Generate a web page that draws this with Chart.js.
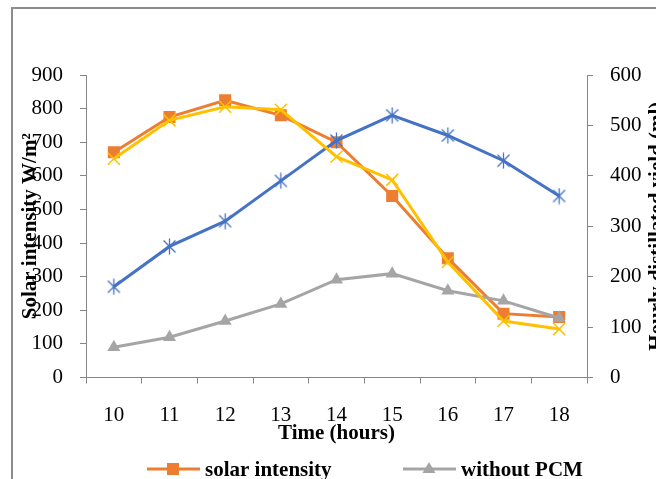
<!DOCTYPE html>
<html>
<head>
<meta charset="utf-8">
<script src="https://cdn.jsdelivr.net/npm/chart.js@4.4.0/dist/chart.umd.min.js"></script>
<style>
  html, body { margin: 0; padding: 0; background: #fff; overflow: hidden; }
  #wrap { position: relative; width: 656px; height: 479px; overflow: hidden; }
  #frame { position: absolute; left: 11px; top: 7px; width: 700px; height: 520px;
           border-top: 2px solid #8c8c8c; border-left: 2px solid #8c8c8c; }
  #box { position: absolute; left: 0; top: 0; width: 680px; height: 479px; }
</style>
</head>
<body>
<div id="wrap">
  <div id="frame"></div>
  <div id="box"><canvas id="yieldChart" width="680" height="479"></canvas></div>
</div>
<script>
// data
const hours = ['10', '11', '12', '13', '14', '15', '16', '17', '18'];
const solarIntensity = [670, 775, 825, 780, 700, 540, 355, 190, 180];   // W/m2, left axis
const withoutPCM = [60, 80, 112, 146, 194, 206, 172, 152, 118];         // ml, right axis
const withPCM = [180, 260, 310, 390, 470, 520, 480, 430, 360];          // ml, right axis
const withPCMFins = [434, 510, 537, 531, 438, 392, 229, 112, 96];       // ml, right axis
const leftAxis = { min: 0, max: 900, step: 100 };
const rightAxis = { min: 0, max: 600, step: 100 };

const serif = "'Liberation Serif', 'Times New Roman', serif";
const axisGrey = '#868686';

// excel style star: an X with a vertical bar
let makeStar = (color) => {
  const c = document.createElement('canvas');
  c.width = 15;
  c.height = 17;
  const g = c.getContext('2d');
  g.strokeStyle = color;
  g.lineWidth = 1.3;
  g.beginPath();
  g.moveTo(1.5, 2.5); g.lineTo(13.5, 14.5);
  g.moveTo(13.5, 2.5); g.lineTo(1.5, 14.5);
  g.moveTo(7.5, 0.5); g.lineTo(7.5, 16.5);
  g.stroke();
  return c;
}

let drawLegendMarker = (ctx, style, color, x, y) => {
  ctx.fillStyle = color;
  ctx.strokeStyle = color;
  if (style === 'rect') {
    ctx.fillRect(x - 6, y - 6, 12, 12);
  } else if (style === 'triangle') {
    ctx.beginPath();
    ctx.moveTo(x, y - 7);
    ctx.lineTo(x + 6.5, y + 4);
    ctx.lineTo(x - 6.5, y + 4);
    ctx.closePath();
    ctx.fill();
  }
}

const bottomLegend = {
  id: 'bottomLegend',
  afterDraw(chart) {
    const ctx = chart.ctx;
    const columns = [147, 403];
    ctx.save();
    chart.data.datasets.forEach((ds, i) => {
      const x = columns[i % 2];
      const y = 469 + Math.floor(i / 2) * 26;
      ctx.strokeStyle = ds.borderColor;
      ctx.lineWidth = 3;
      ctx.beginPath();
      ctx.moveTo(x, y);
      ctx.lineTo(x + 53, y);
      ctx.stroke();
      drawLegendMarker(ctx, ds.pointStyle, ds.borderColor, x + 26, y);
      ctx.fillStyle = '#000';
      ctx.font = `bold 21px ${serif}`;
      ctx.textBaseline = 'middle';
      ctx.textAlign = 'left';
      ctx.fillText(ds.label, x + 58, y + 2);
    });
    ctx.restore();
  }
};

const rightTitle = {
  id: 'rightTitle',
  afterDraw(chart) {
    const ctx = chart.ctx;
    const area = chart.chartArea;
    ctx.save();
    ctx.translate(658, (area.top + area.bottom) / 2);
    ctx.rotate(-Math.PI / 2);
    ctx.fillStyle = '#000';
    ctx.font = `bold 21px ${serif}`;
    ctx.textAlign = 'center';
    ctx.textBaseline = 'middle';
    ctx.fillText('Hourly distillated yield (ml)', 0, 0);
    ctx.restore();
  }
};

const yieldChart = new Chart(document.querySelector('#yieldChart').getContext('2d'), {
  type: 'line',
  data: {
    labels: hours,
    datasets: [
      {
        label: 'solar intensity', data: solarIntensity, yAxisID: 'y', order: 4,
        borderColor: '#ED7D31', backgroundColor: '#ED7D31', borderWidth: 3,
        pointStyle: 'rect', pointRadius: 8.5, pointBorderWidth: 0, pointBackgroundColor: '#ED7D31'
      },
      {
        label: 'without PCM', data: withoutPCM, yAxisID: 'y1', order: 3,
        borderColor: '#A5A5A5', backgroundColor: '#A5A5A5', borderWidth: 3,
        pointStyle: 'triangle', pointRadius: 7.5, pointBorderWidth: 0, pointBackgroundColor: '#A5A5A5'
      },
      {
        label: 'with PCM', data: withPCM, yAxisID: 'y1', order: 2,
        borderColor: '#4472C4', backgroundColor: '#4472C4', borderWidth: 3,
        pointStyle: makeStar('#4472C4')
      },
      {
        label: 'with PCM and fins', data: withPCMFins, yAxisID: 'y1', order: 1,
        borderColor: '#FFC000', backgroundColor: '#FFC000', borderWidth: 3,
        pointStyle: 'crossRot', pointRadius: 8.5, pointBorderWidth: 1.5, pointBorderColor: '#FFC000'
      }
    ]
  },
  options: {
    responsive: false,
    animation: false,
    devicePixelRatio: 1,
    layout: { padding: { top: 75, left: 0, right: 0, bottom: 0 } },
    plugins: {
      legend: { display: false },
      tooltip: { enabled: false }
    },
    scales: {
      x: {
        type: 'category',
        offset: true,
        grid: { offset: true, drawOnChartArea: false, drawTicks: true, tickLength: 6, color: axisGrey },
        border: { color: axisGrey, width: 1 },
        ticks: { font: { family: serif, size: 21 }, color: '#000', padding: 19, maxRotation: 0 },
        title: {
          display: true, text: 'Time (hours)', color: '#000',
          font: { family: serif, size: 21, weight: 'bold' }, padding: { top: 0, bottom: 33 }
        },
        afterFit: (scale) => { scale.height = 101.5; }
      },
      y: {
        position: 'left',
        min: leftAxis.min, max: leftAxis.max,
        grid: { drawOnChartArea: false, drawTicks: true, tickLength: 6, color: axisGrey },
        border: { color: axisGrey, width: 1 },
        ticks: { stepSize: leftAxis.step, font: { family: serif, size: 21 }, color: '#000', padding: 17 },
        title: {
          display: true, text: 'Solar intensity W/m²', color: '#000',
          font: { family: serif, size: 21, weight: 'bold' }, padding: { top: 18, bottom: 0 }
        },
        afterFit: (scale) => { scale.width = 86; }
      },
      y1: {
        position: 'right',
        min: rightAxis.min, max: rightAxis.max,
        grid: { drawOnChartArea: false, drawTicks: true, tickLength: 6, color: axisGrey },
        border: { color: axisGrey, width: 1 },
        ticks: { stepSize: rightAxis.step, font: { family: serif, size: 21 }, color: '#000', padding: 17 },
        afterFit: (scale) => { scale.width = 93; }
      }
    }
  },
  plugins: [bottomLegend, rightTitle]
});
</script>
</body>
</html>
